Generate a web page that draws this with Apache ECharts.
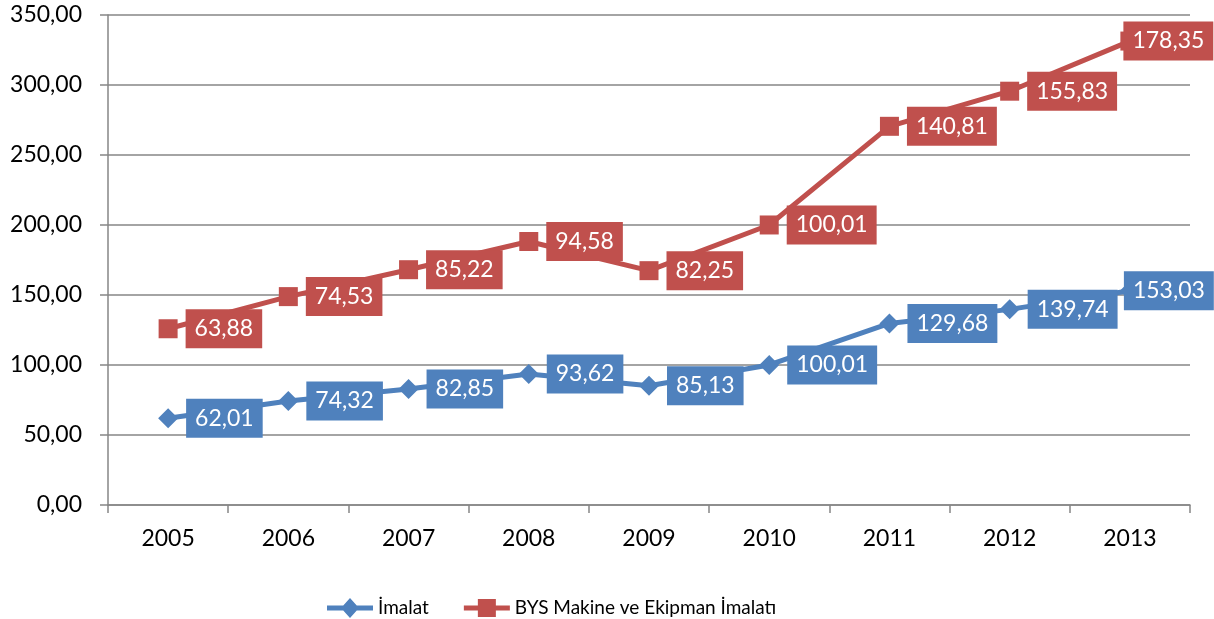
<!DOCTYPE html>
<html>
<head>
<meta charset="utf-8">
<script src="https://cdn.jsdelivr.net/npm/echarts@6/dist/echarts.min.js"></script>
<style>
html,body{margin:0;padding:0;background:#fff;}
#c{width:1214px;height:619px;}
</style>
</head>
<body>
<div id="c"></div>
<script>
const categories = ['2005','2006','2007','2008','2009','2010','2011','2012','2013'];
const imalat = [62.01, 74.32, 82.85, 93.62, 85.13, 100.01, 129.68, 139.74, 153.03];
const bys = [63.88, 74.53, 85.22, 94.58, 82.25, 100.01, 140.81, 155.83, 178.35];
const seriesNames = ['İmalat', 'BYS Makine ve Ekipman İmalatı'];

const FONT = 'Lato';
const fmt = v => Number(v).toFixed(2).replace('.', ',');

const ICON_DIAMOND = 'path://M0,7.5 L16.25,7.5 L23,0 L29.75,7.5 L46,7.5 L46,12.5 L29.75,12.5 L23,20 L16.25,12.5 L0,12.5 Z';
const ICON_SQUARE = 'path://M0,7.5 L14,7.5 L14,1 L32,1 L32,7.5 L46,7.5 L46,12.5 L32,12.5 L32,19 L14,19 L14,12.5 L0,12.5 Z';

function toData(arr) {
  return arr.map((v, i) => i === arr.length - 1
    ? { value: v, label: { offset: [-24, 0] } }
    : v);
}

function makeSeries(name, arr, color, symbol, size) {
  return {
    name: name,
    type: 'line',
    stack: 'total',
    data: toData(arr),
    symbol: symbol,
    symbolSize: size,
    color: color,
    lineStyle: { color: color, width: 5 },
    itemStyle: { color: color },
    label: {
      show: true,
      position: 'right',
      distance: 8,
      formatter: p => fmt(p.value),
      color: '#fff',
      backgroundColor: color,
      fontFamily: FONT,
      fontSize: 23,
      lineHeight: 27,
      padding: [6, 9]
    },
    emphasis: { disabled: true },
    animation: false
  };
}

const chart = echarts.init(document.getElementById('c'));
chart.setOption({
  animation: false,
  grid: { left: 108, right: 24, top: 15, bottom: 114 },
  legend: {
    left: 322,
    top: 593,
    itemWidth: 46,
    itemHeight: 20,
    itemGap: 35,
    textStyle: { fontFamily: FONT, fontSize: 19, color: '#000' },
    data: [
      { name: seriesNames[0], icon: ICON_DIAMOND, itemStyle: { color: '#4F81BD' } },
      { name: seriesNames[1], icon: ICON_SQUARE, itemStyle: { color: '#C0504D' } }
    ]
  },
  xAxis: {
    type: 'category',
    data: categories,
    boundaryGap: true,
    axisLine: { lineStyle: { color: '#868686', width: 1.5 } },
    axisTick: { show: true, length: 8, inside: false, lineStyle: { color: '#868686', width: 1.5 } },
    axisLabel: { fontFamily: FONT, fontSize: 23, color: '#000', margin: 22 }
  },
  yAxis: {
    type: 'value',
    min: 0,
    max: 350,
    interval: 50,
    axisLine: { show: true, lineStyle: { color: '#868686', width: 1.5 } },
    axisTick: { show: true, length: 8, lineStyle: { color: '#868686', width: 1.5 } },
    splitLine: { lineStyle: { color: '#868686', width: 1.5 } },
    axisLabel: { fontFamily: FONT, fontSize: 23, color: '#000', margin: 26, formatter: v => fmt(v) }
  },
  series: [
    makeSeries(seriesNames[0], imalat, '#4F81BD', 'diamond', 20),
    makeSeries(seriesNames[1], bys, '#C0504D', 'rect', 19)
  ]
});
</script>
</body>
</html>
